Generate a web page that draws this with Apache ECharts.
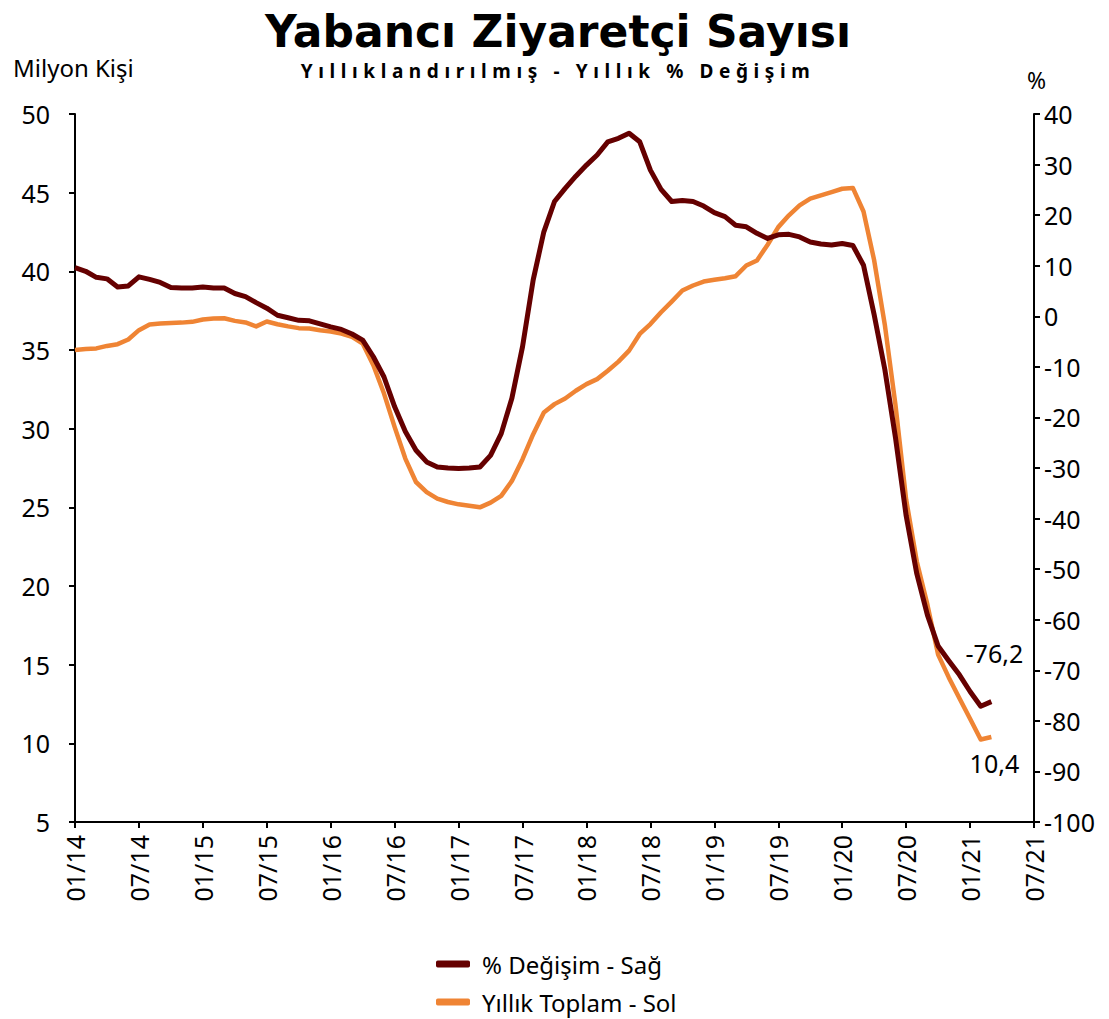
<!DOCTYPE html>
<html>
<head>
<meta charset="utf-8">
<script src="https://cdn.jsdelivr.net/npm/echarts@6/dist/echarts.min.js"></script>
<style>
html,body{margin:0;padding:0;background:#fff;}
#c{width:1109px;height:1019px;}
</style>
</head>
<body>
<div id="c"></div>
<script>
// Month categories 01/14 .. 07/21
const months = [];
for (let y = 14; y <= 21; y++) {
  for (let m = 1; m <= 12; m++) {
    if (y === 21 && m > 7) break;
    months.push((m < 10 ? '0' + m : '' + m) + '/' + y);
  }
}

// Yıllık % değişim (right axis)
const pctChange = [
  9.6, 8.9, 7.7, 7.4, 5.8, 6.0, 7.8, 7.3, 6.7, 5.7, 5.6, 5.6,
  5.8, 5.6, 5.6, 4.5, 3.9, 2.7, 1.6, 0.2, -0.3, -0.8, -0.9, -1.5,
  -2.1, -2.6, -3.5, -4.7, -8.0, -12.0, -17.9, -22.8, -26.5, -28.8, -29.8, -30.0,
  -30.1, -30.0, -29.8, -27.5, -23.2, -16.2, -6.0, 7.2, 16.7, 22.7, 25.3, 27.7,
  29.9, 31.9, 34.5, 35.2, 36.2, 34.5, 28.9, 25.1, 22.7, 22.9, 22.7, 21.8,
  20.5, 19.7, 18.0, 17.7, 16.4, 15.4, 16.1, 16.2, 15.7, 14.7, 14.3, 14.1,
  14.4, 14.0, 10.1, 0.3, -10.5, -24.0, -39.4, -50.9, -59.1, -65.2, -68.1, -70.9,
  -74.2, -77.1, -76.2
];

// Yıllık toplam, milyon kişi (left axis)
const annualTotal = [
  35.0, 35.07, 35.1, 35.26, 35.37, 35.67, 36.26, 36.62, 36.68, 36.72, 36.74, 36.79,
  36.94, 37.0, 37.02, 36.85, 36.75, 36.5, 36.81, 36.64, 36.5, 36.39, 36.37, 36.26,
  36.18, 36.05, 35.84, 35.41, 34.03, 32.23, 30.1, 28.1, 26.61, 25.97, 25.55, 25.34,
  25.19, 25.1, 25.0, 25.3, 25.73, 26.68, 28.06, 29.65, 31.03, 31.56, 31.92, 32.41,
  32.83, 33.15, 33.68, 34.26, 34.96, 36.02, 36.65, 37.4, 38.08, 38.78, 39.1, 39.35,
  39.46, 39.56, 39.69, 40.37, 40.69, 41.69, 42.81, 43.56, 44.19, 44.62, 44.83, 45.04,
  45.25, 45.3, 43.8, 40.7, 36.6, 31.5, 25.5, 21.56, 18.8, 15.64, 14.19, 12.87,
  11.56, 10.24, 10.4
];

const seriesNames = ['% Değişim - Sağ', 'Yıllık Toplam - Sol'];
const titleText = 'Yabancı Ziyaretçi Sayısı';
const subtitleText = 'Yıllıklandırılmış - Yıllık % Değişim';
const FONT = 'Noto Sans';
const DARK = '#650000';
const ORANGE = '#EF8434';

const fmtComma = v => String(v).replace('.', ',');

const lastIdx = pctChange.length - 1;
const pctData = pctChange.map((v, i) => i === lastIdx ? {
  value: v,
  label: { show: true, position: 'top', distance: 36, formatter: p => fmtComma(p.value),
           fontFamily: FONT, fontSize: 25, color: '#000', offset: [3, 0] }
} : v);
const totData = annualTotal.map((v, i) => i === annualTotal.length - 1 ? {
  value: v,
  label: { show: true, position: 'bottom', distance: 13, formatter: p => fmtComma(p.value),
           fontFamily: FONT, fontSize: 25, color: '#000', offset: [3, 0] }
} : v);

const chart = echarts.init(document.getElementById('c'), null, { renderer: 'svg' });
chart.setOption({
  backgroundColor: '#fff',
  animation: false,
  textStyle: { fontFamily: FONT },
  title: [
    { text: titleText, left: 553, textAlign: 'center', top: 4,
      textStyle: { fontFamily: 'DejaVu Sans', fontWeight: 'bold', fontSize: 44, lineHeight: 44, color: '#000' } },
    { text: subtitleText, left: 553, top: 56, textAlign: 'center',
      textStyle: { fontFamily: FONT, fontWeight: 'bold', fontSize: 19, color: '#000' } },
    { text: 'Milyon Kişi', left: 8, top: 50,
      textStyle: { fontFamily: FONT, fontWeight: 'normal', fontSize: 24, color: '#000' } },
    { text: '%', left: 1022, top: 63,
      textStyle: { fontFamily: FONT, fontWeight: 'normal', fontSize: 23, color: '#000' } }
  ],
  legend: {
    orient: 'vertical',
    left: 436, top: 952, height: 90, padding: 0,
    itemWidth: 34, itemHeight: 7, itemGap: 14,
    icon: 'roundRect',
    data: seriesNames,
    textStyle: { fontFamily: FONT, fontSize: 24, color: '#000', padding: [0, 0, 0, 7] }
  },
  grid: { left: 75, right: 75, top: 114, bottom: 197, containLabel: false },
  xAxis: {
    type: 'category',
    data: months,
    boundaryGap: false,
    axisLine: { onZero: false, lineStyle: { color: '#000', width: 2 } },
    axisTick: { show: true, interval: 5, length: 6, lineStyle: { color: '#000', width: 2 } },
    axisLabel: { interval: 5, rotate: 90, margin: 13, fontSize: 25, color: '#000', fontFamily: FONT },
    splitLine: { show: false }
  },
  yAxis: [
    { type: 'value', min: 5, max: 50, interval: 5, position: 'left',
      axisLine: { show: true, lineStyle: { color: '#000', width: 2 } },
      axisTick: { show: true, length: 6, lineStyle: { color: '#000', width: 2 } },
      axisLabel: { margin: 25, fontSize: 25, color: '#000', fontFamily: FONT },
      splitLine: { show: false } },
    { type: 'value', min: -100, max: 40, interval: 10, position: 'right',
      axisLine: { show: true, lineStyle: { color: '#000', width: 2 } },
      axisTick: { show: true, length: 6, lineStyle: { color: '#000', width: 2 } },
      axisLabel: { margin: 10, fontSize: 25, color: '#000', fontFamily: FONT },
      splitLine: { show: false } }
  ],
  series: [
    { name: seriesNames[1], type: 'line', yAxisIndex: 0, data: totData,
      showSymbol: true, symbol: 'circle', symbolSize: 0, smooth: false, z: 2,
      lineStyle: { color: ORANGE, width: 4.5, join: 'round' }, itemStyle: { color: ORANGE } },
    { name: seriesNames[0], type: 'line', yAxisIndex: 1, data: pctData,
      showSymbol: true, symbol: 'circle', symbolSize: 0, smooth: false, z: 3,
      lineStyle: { color: DARK, width: 5, join: 'round' }, itemStyle: { color: DARK } }
  ]
});

// letter spacing for the subtitle (SVG renderer)
document.querySelectorAll('#c text').forEach(t => {
  if (t.textContent === subtitleText) t.style.letterSpacing = '5.6px';
});
</script>
</body>
</html>
